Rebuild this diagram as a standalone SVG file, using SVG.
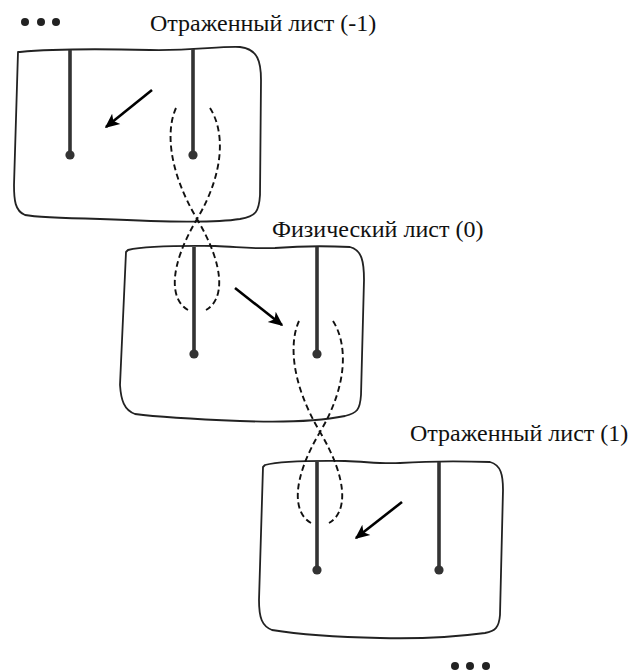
<svg xmlns="http://www.w3.org/2000/svg" width="630" height="672" viewBox="0 0 630 672">
  <style>
    .sheet { fill: none; stroke: #222; stroke-width: 1.8; stroke-linejoin: round; }
    .stem { stroke: #333; stroke-width: 3.6; stroke-linecap: butt; }
    .pin { fill: #333; }
    .loop { fill: none; stroke: #111; stroke-width: 1.9; stroke-dasharray: 6 3.6; }
    .move { stroke: #000; stroke-width: 2.6; fill: none; }
    .label { font-family: 'Liberation Serif', 'Times New Roman', serif; font-size: 24px; fill: #111; }
    .ellipsis { fill: #222; }
  </style>
  <defs>
    <marker id="head" viewBox="0 0 10 10" refX="9" refY="5" markerWidth="5.6" markerHeight="5.6" orient="auto" markerUnits="strokeWidth">
      <path d="M0,0.5 L10,5 L0,9.5 L2.5,5 Z" fill="#000"/>
    </marker>
    <!-- figure-eight loop drawn around a stem; its open ends leave room for the stem -->
    <g id="eight">
      <path class="loop" d="M176,108 C166,130 168,170 197,219 C226,268 224,300 206,310"/>
      <path class="loop" d="M210,108 C224,130 226,170 197,219 C168,268 170,300 188,310"/>
    </g>
  </defs>

  <!-- ellipses -->
  <g id="dots-top" class="ellipsis">
    <circle cx="25" cy="22" r="4"/>
    <circle cx="41" cy="22" r="4"/>
    <circle cx="56" cy="22" r="4"/>
  </g>
  <g id="dots-bottom" class="ellipsis">
    <circle cx="455" cy="666" r="4"/>
    <circle cx="470" cy="666" r="4"/>
    <circle cx="486" cy="666" r="4"/>
  </g>

  <!-- reflected sheet (-1) -->
  <g id="sheet-minus1">
    <path class="sheet" d="M20,52 C60,48 110,49 150,50 C190,51 220,46 240,47 C258,49 261,62 261,80 L260,195 C259,212 256,216 240,219 C215,223 170,222 100,219 C60,218 35,217 25,215 C15,211 14,200 14,185 L18,52 Z"/>
    <line class="stem" x1="70" y1="50" x2="70" y2="155"/>
    <line class="stem" x1="193" y1="49" x2="193" y2="155"/>
    <circle class="pin" cx="70" cy="155" r="4.6"/>
    <circle class="pin" cx="193" cy="155" r="4.6"/>
    <text class="label" x="150" y="31">Отраженный лист (-1)</text>
  </g>

  <!-- physical sheet (0) -->
  <g id="sheet-0">
    <path class="sheet" d="M128,250 C150,245 190,246 215,246 C240,247 250,249 275,248 C300,246 330,246 350,247 C362,250 364,262 364,280 L361,395 C360,410 357,413 345,416 C320,421 290,423 240,421 C190,419 150,416 135,414 C124,410 121,400 120,385 L126,252 Z"/>
    <line class="stem" x1="194" y1="247" x2="194" y2="354"/>
    <line class="stem" x1="317" y1="247" x2="317" y2="354"/>
    <circle class="pin" cx="194" cy="354" r="4.6"/>
    <circle class="pin" cx="317" cy="354" r="4.6"/>
    <text class="label" x="272" y="237">Физический лист (0)</text>
  </g>

  <!-- reflected sheet (1) -->
  <g id="sheet-plus1">
    <path class="sheet" d="M265,465 C285,460 320,461 345,461 C370,462 380,464 400,463 C430,461 460,461 490,462 C501,465 503,475 503,490 L500,615 C499,628 495,631 485,633 C455,637 420,639 380,638 C330,637 290,633 272,630 C262,626 259,618 259,600 L263,467 Z"/>
    <line class="stem" x1="317" y1="462" x2="317" y2="570"/>
    <line class="stem" x1="439" y1="462" x2="439" y2="570"/>
    <circle class="pin" cx="317" cy="570" r="4.6"/>
    <circle class="pin" cx="439" cy="570" r="4.6"/>
    <text class="label" x="410" y="441">Отраженный лист (1)</text>
  </g>

  <!-- connectors: dashed loops passing between sheets, and displacement arrows -->
  <g id="connectors">
    <use href="#eight"/>
    <use href="#eight" transform="translate(123,213)"/>
    <line class="move" x1="152" y1="90" x2="106" y2="127" marker-end="url(#head)"/>
    <line class="move" x1="235" y1="288" x2="282" y2="325" marker-end="url(#head)"/>
    <line class="move" x1="402" y1="502" x2="356" y2="538" marker-end="url(#head)"/>
  </g>
</svg>
